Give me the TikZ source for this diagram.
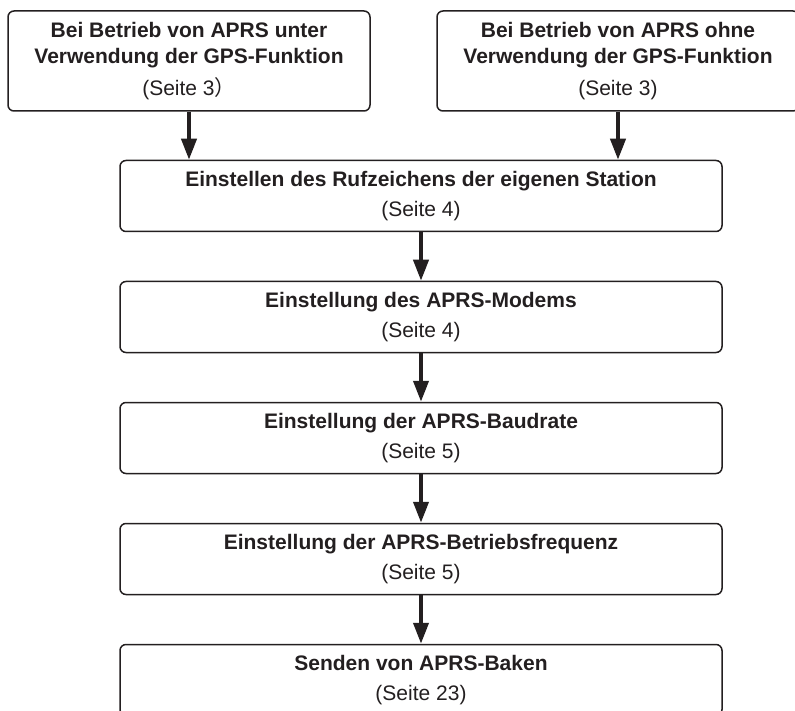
\documentclass[tikz,border=0pt]{standalone}
\usepackage{fontspec}
\setmainfont{Liberation Sans}
\newfontfamily\cjk{Noto Sans CJK JP}
\usetikzlibrary{arrows.meta, positioning}
\definecolor{inkgray}{HTML}{231F20}

\begin{document}
\begin{tikzpicture}[
            x=1pt, y=-1pt,
            node distance=48.5pt,
            >={Triangle[length=21pt,width=15pt]},
            font=\fontsize{21}{26}\selectfont,
            startbox/.style={rectangle, draw=inkgray, line width=1.5pt,
                rounded corners=6pt, text=inkgray, align=center,
                minimum width=362pt, minimum height=100pt
            },
            stepbox/.style={rectangle, draw=inkgray, line width=1.5pt,
                rounded corners=6pt, text=inkgray, align=center,
                minimum width=602pt, minimum height=71pt
            },
            line/.style={draw=inkgray, line width=4pt, ->}
        ]
            \useasboundingbox (0,0) rectangle (795,711);
            % Startpunkte
            \node [startbox] (withgps) at (189,61) {\textbf{Bei Betrieb von APRS unter}\\\textbf{Verwendung der GPS-Funktion}\\[6pt](Seite 3{\cjk ）}};
            \node [startbox] (withoutgps) at (618,61) {\textbf{Bei Betrieb von APRS ohne}\\\textbf{Verwendung der GPS-Funktion}\\[6pt](Seite 3)};

            % Einstellschritte
            \node [stepbox] (callsign) at (421,196) {\textbf{Einstellen des Rufzeichens der eigenen Station}\\[4pt](Seite 4)};
            \node [stepbox, below=of callsign] (modem) {\textbf{Einstellung des APRS-Modems}\\[4pt](Seite 4)};
            \node [stepbox, below=of modem] (baudrate) {\textbf{Einstellung der APRS-Baudrate}\\[4pt](Seite 5)};
            \node [stepbox, below=of baudrate] (frequency) {\textbf{Einstellung der APRS-Betriebsfrequenz}\\[4pt](Seite 5)};
            \node [stepbox, below=of frequency] (beacon) {\textbf{Senden von APRS-Baken}\\[4pt](Seite 23)};

            % Pfeile
            \path [line] (withgps) -- (withgps |- callsign.north);
            \path [line] (withoutgps) -- (withoutgps |- callsign.north);
            \path [line] (callsign) -- (modem);
            \path [line] (modem) -- (baudrate);
            \path [line] (baudrate) -- (frequency);
            \path [line] (frequency) -- (beacon);
        \end{tikzpicture}
\end{document}
